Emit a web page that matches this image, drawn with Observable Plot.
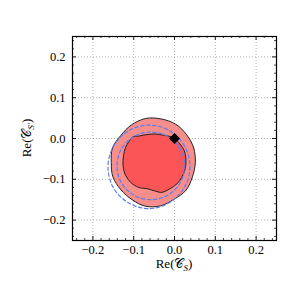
<!DOCTYPE html>
<html><head><meta charset="utf-8">
<script src="https://cdn.jsdelivr.net/npm/d3@7"></script>
<script src="https://cdn.jsdelivr.net/npm/@observablehq/plot@0.6"></script>
<style>
body{margin:0;background:#fff}
svg text{font-family:"Liberation Serif","Times New Roman","DejaVu Serif",serif !important;}
svg text .script{font-family:"DejaVu Sans","Noto Sans",serif !important;}
</style>
</head><body><div id="chart"></div>
<script>
const majorTicks = [-0.2, -0.1, 0.0, 0.1, 0.2];
const minorTicks = [-0.24, -0.22, -0.18, -0.16, -0.14, -0.12, -0.08, -0.06, -0.04, -0.02,
                    0.02, 0.04, 0.06, 0.08, 0.12, 0.14, 0.16, 0.18, 0.22, 0.24];
// outer (light) credible region boundary
const outerRegion = [
  [0.051, -0.059], [0.047, -0.023], [0.030, 0.009], [0.003, 0.035], [-0.033, 0.048],
  [-0.071, 0.049], [-0.106, 0.033], [-0.132, 0.007], [-0.152, -0.023], [-0.155, -0.059],
  [-0.151, -0.094], [-0.131, -0.126], [-0.104, -0.150], [-0.071, -0.166], [-0.034, -0.165],
  [-0.001, -0.149], [0.028, -0.127], [0.044, -0.094]
];
// inner (dark) credible region boundary
const innerRegion = [
  [0.000, 0.000], [0.014, -0.014], [0.024, -0.030], [0.028, -0.050], [0.026, -0.075],
  [0.018, -0.095], [0.006, -0.111], [-0.011, -0.123], [-0.031, -0.132], [-0.047, -0.129],
  [-0.067, -0.123], [-0.088, -0.120], [-0.107, -0.108], [-0.120, -0.090], [-0.126, -0.067],
  [-0.125, -0.042], [-0.120, -0.022], [-0.112, -0.008], [-0.102, 0.004], [-0.087, 0.006],
  [-0.072, 0.009], [-0.047, 0.011], [-0.027, 0.008], [-0.011, 0.005]
];
// dashed contours
const outerDashed = [
  [0.038, -0.069], [0.0245, -0.0185], [-0.012, 0.019], [-0.063, 0.033], [-0.1135, 0.0185],
  [-0.1496, -0.019], [-0.163, -0.069], [-0.1505, -0.1195], [-0.114, -0.157], [-0.063, -0.172],
  [-0.012, -0.157], [0.0245, -0.1195]
];
const innerDashed = [
  [0.025, -0.067], [0.014, -0.0255], [-0.0165, 0.005], [-0.058, 0.016], [-0.0995, 0.005],
  [-0.130, -0.0255], [-0.141, -0.067], [-0.130, -0.1085], [-0.0995, -0.139], [-0.058, -0.150],
  [-0.0165, -0.139], [0.014, -0.1085]
];
const bestFit = [[0.0, 0.0]];

const X = d => d[0], Y = d => d[1];
const fmt = d3.format(".1f");
const serif = "Liberation Serif, Times New Roman, DejaVu Serif, serif";

const svg = Plot.plot({
  width: 291, height: 291,
  marginLeft: 72, marginRight: 15, marginTop: 36, marginBottom: 51,
  style: {fontFamily: serif, fontSize: "12px", background: "white", color: "black"},
  x: {domain: [-0.25, 0.25], label: null},
  y: {domain: [-0.25, 0.25], label: null},
  marks: [
    Plot.gridX(majorTicks, {stroke: "#a8a8a8", strokeOpacity: 1, strokeWidth: 0.9, strokeDasharray: "1,2"}),
    Plot.gridY(majorTicks, {stroke: "#a8a8a8", strokeOpacity: 1, strokeWidth: 0.9, strokeDasharray: "1,2"}),
    Plot.line(outerRegion, {x: X, y: Y, fill: "#f88e8c", stroke: "#222", strokeWidth: 1, curve: "catmull-rom-closed"}),
    Plot.line(innerRegion, {x: X, y: Y, fill: "#fb5557", stroke: "#222", strokeWidth: 1, curve: "catmull-rom-closed"}),
    Plot.line(outerDashed, {x: X, y: Y, stroke: "#5b7fe8", strokeWidth: 1.2, strokeDasharray: "3.5,2.5", curve: "catmull-rom-closed"}),
    Plot.line(innerDashed, {x: X, y: Y, stroke: "#5b7fe8", strokeWidth: 1.2, strokeDasharray: "3.5,2.5", curve: "catmull-rom-closed"}),
    Plot.dot(bestFit, {x: X, y: Y, symbol: "diamond2", r: 4, fill: "black", stroke: "black"}),
    // inward ticks on all four sides
    Plot.tickX(majorTicks, {x: d => d, insetTop: 200, stroke: "black", strokeWidth: 0.9}),
    Plot.tickX(majorTicks, {x: d => d, insetBottom: 200, stroke: "black", strokeWidth: 0.9}),
    Plot.tickY(majorTicks, {y: d => d, insetRight: 200, stroke: "black", strokeWidth: 0.9}),
    Plot.tickY(majorTicks, {y: d => d, insetLeft: 200, stroke: "black", strokeWidth: 0.9}),
    Plot.tickX(minorTicks, {x: d => d, insetTop: 202, stroke: "black", strokeWidth: 0.7}),
    Plot.tickX(minorTicks, {x: d => d, insetBottom: 202, stroke: "black", strokeWidth: 0.7}),
    Plot.tickY(minorTicks, {y: d => d, insetRight: 202, stroke: "black", strokeWidth: 0.7}),
    Plot.tickY(minorTicks, {y: d => d, insetLeft: 202, stroke: "black", strokeWidth: 0.7}),
    Plot.frame({stroke: "black", strokeWidth: 1.2}),
    Plot.axisX(majorTicks, {tickSize: 0, tickPadding: 5, tickFormat: fmt, label: null, fontSize: 12.5, fontFamily: serif}),
    Plot.axisY(majorTicks, {tickSize: 0, tickPadding: 7, tickFormat: fmt, label: null, fontSize: 12.5, fontFamily: serif})
  ]
});
document.getElementById("chart").append(svg);

// axis titles with subscripts
const s = d3.select(svg);
function title(sel, sub) {
  sel.attr("font-family", serif).attr("font-size", 13).attr("fill", "black").attr("text-anchor", "middle");
  sel.append("tspan").text("Re(");
  sel.append("tspan").attr("class", "script").text("𝒞");
  sel.append("tspan").attr("font-size", 9).attr("font-style", "italic").attr("dy", 3).text(sub);
  sel.append("tspan").attr("dy", -3).text(")");
}
title(s.append("text").attr("x", 174).attr("y", 268), "S");
title(s.append("text").attr("transform", "translate(31,138) rotate(-90)"), "S′");
</script>
</body></html>
